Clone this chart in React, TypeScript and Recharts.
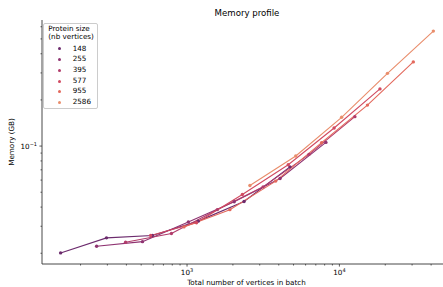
import React from 'react';
import { LineChart, Line, XAxis, YAxis, Legend } from 'recharts';

const proteinSizes = [148, 255, 395, 577, 955, 2586];

const vertices148 = [148, 296, 592, 1184, 2368, 4736];
const memory148 = [0.0201, 0.0252, 0.0261, 0.0324, 0.0435, 0.0732];

const vertices255 = [255, 510, 1020, 2040, 4080, 8160];
const memory255 = [0.0222, 0.0238, 0.032, 0.0433, 0.0615, 0.1057];

const vertices395 = [395, 790, 1580, 3160, 6320, 12640];
const memory395 = [0.0236, 0.0269, 0.0385, 0.0542, 0.0883, 0.1556];

const vertices577 = [577, 1154, 2308, 4616, 9232, 18464];
const memory577 = [0.0261, 0.0316, 0.0483, 0.0756, 0.1312, 0.236];

const vertices955 = [955, 1910, 3820, 7640, 15280, 30560];
const memory955 = [0.0297, 0.0385, 0.0591, 0.1052, 0.185, 0.354];

const vertices2586 = [2586, 5172, 10344, 20688, 41376];
const memory2586 = [0.0553, 0.0861, 0.154, 0.298, 0.562];

const xMajorTicks = [1000, 10000];
const xMajorExponents = ['3', '4'];
const xMinorTicks = [200, 300, 400, 500, 600, 700, 800, 900, 2000, 3000, 4000, 5000, 6000, 7000, 8000, 9000, 20000, 30000, 40000];
const yMajorTicks = [0.1];
const yMajorExponents = ['\u22121'];
const yMinorTicks = [0.02, 0.03, 0.04, 0.05, 0.06, 0.07, 0.08, 0.09, 0.2, 0.3, 0.4, 0.5, 0.6];

const xDomain = [111.7, 54840];
const yDomain = [0.01702, 0.664];

const title = 'Memory profile';
const xLabel = 'Total number of vertices in batch';
const yLabel = 'Memory (GB)';
const legendTitle = ['Protein size', '(nb vertices)'];

const colors = ['#6c2b6d', '#8f3371', '#b13c6b', '#d14a61', '#e3685c', '#e98d6b'];
const FONT = '"DejaVu Sans", sans-serif';
const AXIS = '#333333';

const seriesVertices = [vertices148, vertices255, vertices395, vertices577, vertices955, vertices2586];
const seriesMemory = [memory148, memory255, memory395, memory577, memory955, memory2586];

const seriesData = proteinSizes.map((size, i) => ({
  name: String(size),
  color: colors[i],
  data: seriesVertices[i].map((x, j) => ({ x, y: seriesMemory[i][j] })),
}));

const XTick = (props: any) => {
  const { x, y, payload } = props;
  const idx = xMajorTicks.indexOf(payload.value);
  const major = idx >= 0;
  return (
    <g>
      <line x1={x} x2={x} y1={y} y2={y + (major ? 2.6 : 1.5)} stroke={AXIS} strokeWidth={0.8} />
      {major && (
        <text x={x} y={y + 10.6} textAnchor="middle" fontSize={7.2} fontFamily={FONT} fill="#000">
          10<tspan dy={-3} fontSize={5}>{xMajorExponents[idx]}</tspan>
        </text>
      )}
    </g>
  );
};

const YTick = (props: any) => {
  const { x, y, payload } = props;
  const idx = yMajorTicks.indexOf(payload.value);
  const major = idx >= 0;
  return (
    <g>
      <line x1={x} x2={x - (major ? 2.6 : 1.5)} y1={y} y2={y} stroke={AXIS} strokeWidth={0.8} />
      {major && (
        <text x={x - 5} y={y + 3.2} textAnchor="end" fontSize={7.2} fontFamily={FONT} fill="#000">
          10<tspan dy={-3} fontSize={5}>{yMajorExponents[idx]}</tspan>
        </text>
      )}
    </g>
  );
};

const renderLegend = (props: any) => {
  const payload = [...(props.payload || [])].sort((a: any, b: any) => Number(a.value) - Number(b.value));
  return (
    <div
      style={{
        position: 'relative',
        width: 55,
        height: 86,
        boxSizing: 'border-box',
        border: '1px solid #cccccc',
        borderRadius: 2,
        background: 'rgba(255,255,255,0.8)',
        fontFamily: FONT,
        fontSize: 7.2,
        color: '#000',
      }}
    >
      {legendTitle.map((t, i) => (
        <div key={t} style={{ position: 'absolute', left: 4.3, top: 1.3 + i * 8, lineHeight: '8px', whiteSpace: 'nowrap' }}>
          {t}
        </div>
      ))}
      {payload.map((entry: any, i: number) => (
        <div key={entry.value} style={{ position: 'absolute', left: 0, top: 19.7 + i * 10.67, height: 10.67, width: 53 }}>
          <div
            style={{
              position: 'absolute',
              left: 13.5,
              top: 3.8,
              width: 3,
              height: 3,
              borderRadius: '50%',
              background: entry.color,
            }}
          />
          <div style={{ position: 'absolute', left: 28.7, top: 0, lineHeight: '10.67px', whiteSpace: 'nowrap' }}>
            {entry.value}
          </div>
        </div>
      ))}
    </div>
  );
};

export default function App() {
  return (
    <div
      style={{
        position: 'absolute',
        left: 0,
        top: 0,
        width: 443,
        height: 287,
        overflow: 'hidden',
        background: '#fff',
      }}
    >
      <LineChart width={460} height={287} margin={{ top: 20, right: 8, bottom: 0, left: 0 }}>
        <XAxis
          dataKey="x"
          type="number"
          scale="log"
          domain={xDomain}
          allowDataOverflow
          ticks={[...xMajorTicks, ...xMinorTicks]}
          interval={0}
          tick={<XTick />}
          tickLine={false}
          tickSize={0}
          tickMargin={0}
          height={23}
          axisLine={{ stroke: AXIS, strokeWidth: 0.9 }}
        />
        <XAxis
          xAxisId="top"
          orientation="top"
          dataKey="x"
          type="number"
          scale="log"
          domain={xDomain}
          allowDataOverflow
          height={0}
          tick={false}
          tickLine={false}
          axisLine={{ stroke: AXIS, strokeWidth: 0.9 }}
        />
        <YAxis
          type="number"
          scale="log"
          domain={yDomain}
          allowDataOverflow
          ticks={[...yMajorTicks, ...yMinorTicks]}
          interval={0}
          tick={<YTick />}
          tickLine={false}
          tickSize={0}
          tickMargin={0}
          width={42}
          axisLine={{ stroke: AXIS, strokeWidth: 0.9 }}
        />
        <Legend
          layout="vertical"
          align="center"
          verticalAlign="middle"
          content={renderLegend}
          wrapperStyle={{ left: 43, top: 23, width: 55, height: 86 }}
        />
        {seriesData.map((s) => (
          <Line
            key={s.name}
            name={s.name}
            data={s.data}
            dataKey="y"
            type="linear"
            stroke={s.color}
            strokeWidth={1.1}
            dot={{ r: 1.7, fill: s.color, stroke: s.color, strokeWidth: 0 }}
            activeDot={false}
            isAnimationActive={false}
          />
        ))}
      </LineChart>
      <div
        style={{
          position: 'absolute',
          left: 147,
          top: 8,
          width: 200,
          textAlign: 'center',
          fontFamily: FONT,
          fontSize: 8.6,
          lineHeight: '10px',
          color: '#000',
        }}
      >
        {title}
      </div>
      <div
        style={{
          position: 'absolute',
          left: 146.5,
          top: 277.5,
          width: 200,
          textAlign: 'center',
          fontFamily: FONT,
          fontSize: 7.2,
          lineHeight: '10px',
          color: '#000',
          whiteSpace: 'nowrap',
        }}
      >
        {xLabel}
      </div>
      <div
        style={{
          position: 'absolute',
          left: 12.3 - 40,
          top: 142 - 5,
          width: 80,
          height: 10,
          textAlign: 'center',
          fontFamily: FONT,
          fontSize: 7.2,
          lineHeight: '10px',
          color: '#000',
          whiteSpace: 'nowrap',
          transform: 'rotate(-90deg)',
        }}
      >
        {yLabel}
      </div>
    </div>
  );
}
